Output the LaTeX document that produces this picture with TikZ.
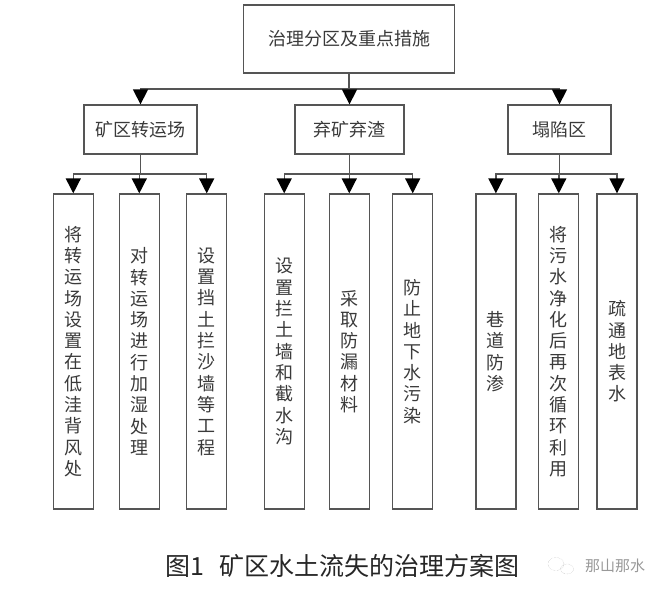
\documentclass[tikz,border=0pt]{standalone}
\usepackage{fontspec}
\usepackage{xcolor}
\usetikzlibrary{arrows.meta}
\newfontfamily\cjk{Noto Sans CJK SC}
\definecolor{linegray}{HTML}{555555}
\definecolor{textgray}{HTML}{3A3A3A}
% vertical text: one character per line
\newcommand\shu[1]{\shuloop#1\shuend}
\def\shuloop#1{\ifx#1\shuend\else#1\par\expandafter\shuloop\fi}
\let\shuend\relax

\begin{document}
\begin{tikzpicture}[x=1pt,y=-1pt,
  kuang/.style={draw=linegray,line width=1.3pt,text=textgray,inner sep=0pt,
    font=\cjk\fontsize{18}{21.3}\selectfont},
  tiao/.style={kuang,minimum width=40pt,minimum height=315pt,text width=18pt,align=center},
  lian/.style={draw=linegray,line width=1.4pt,line cap=rect},
  jian/.style={lian,-{Triangle[width=15pt,length=15pt,color=black]}}]
\useasboundingbox (0,0) rectangle (667,600);

\node[kuang,minimum width=211pt,minimum height=68pt] (zhili) at (349,39) {治理分区及重点措施};

\node[kuang,minimum width=113pt,minimum height=49pt] (zhuanyun) at (140.5,129.5) {矿区转运场};
\node[kuang,minimum width=109pt,minimum height=49pt] (qiza) at (349.5,129.5) {弃矿弃渣};
\node[kuang,minimum width=103pt,minimum height=49pt] (taxian) at (559.5,129.5) {塌陷区};

\node[tiao] (a1) at (73.3,351.5) {\shu{将转运场设置在低洼背风处}};
\node[tiao] (a2) at (139.3,351.5) {\shu{对转运场进行加湿处理}};
\node[tiao] (a3) at (206.7,351.5) {\shu{设置挡土拦沙墙等工程}};
\node[tiao] (b1) at (284.2,351.5) {\shu{设置拦土墙和截水沟}};
\node[tiao] (b2) at (349.3,351.5) {\shu{采取防漏材料}};
\node[tiao] (b3) at (412.7,351.5) {\shu{防止地下水污染}};
\node[tiao] (c1) at (495.9,351.5) {\shu{巷道防渗}};
\node[tiao] (c2) at (558.8,351.5) {\shu{将污水净化后再次循环利用}};
\node[tiao] (c3) at (617,351.5) {\shu{疏通地表水}};

\coordinate (bus) at (0,89);
\coordinate (busb) at (0,174);

\draw[lian] (zhili.south) -- (zhili.south|-bus);
\draw[lian] (zhuanyun.north|-bus) -- (taxian.north|-bus);
\foreach \n in {zhuanyun,qiza,taxian}
  \draw[jian] (\n.north|-bus) -- (\n.north);

\foreach \m/\l/\r in {zhuanyun/a1/a3,qiza/b1/b3,taxian/c1/c3}{
  \draw[lian] (\m.south) -- (\m.south|-busb);
  \draw[lian] (\l.north|-busb) -- (\r.north|-busb);
}
\foreach \n in {a1,a2,a3,b1,b2,b3,c1,c2,c3}
  \draw[jian] (\n.north|-busb) -- (\n.north);

% caption and mark
\node[font=\cjk\fontsize{25}{25}\selectfont,text=black!85] (tuming) at (342.5,566)
  {图1\hspace{0.6em}矿区水土流失的治理方案图};
\draw[black!30,densely dotted] (556,564) ellipse (8 and 6.5) (567,569) ellipse (6.5 and 5);
\node[font=\cjk\fontsize{15}{15}\selectfont,text=black!40] (shuiyin) at (615,566) {那山那水};
\end{tikzpicture}
\end{document}
